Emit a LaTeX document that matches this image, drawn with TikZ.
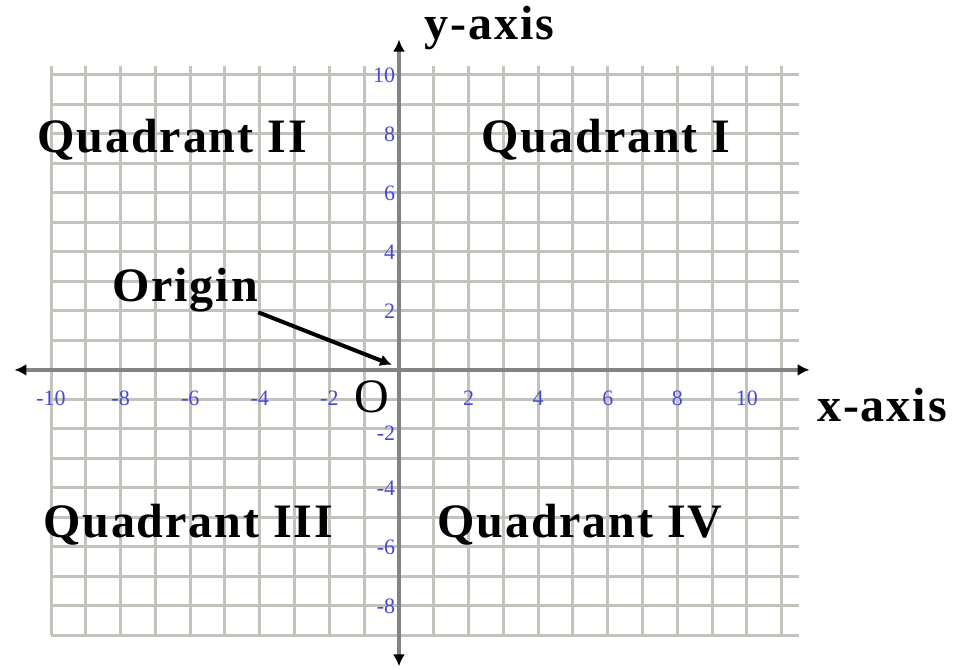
\documentclass[tikz,border=0pt]{standalone}
\usepackage{fontspec}
\setmainfont{Liberation Serif}
\usetikzlibrary{arrows.meta}
\definecolor{ticklab}{RGB}{72,72,215}
\definecolor{gridc}{RGB}{196,194,188}
\definecolor{axisc}{RGB}{128,132,132}

\begin{document}
\begin{tikzpicture}[x=17.4pt,y=14.75pt,>={Latex[length=6pt,width=6pt,color=black]},
  gridline/.style={draw=gridc,line width=1.5pt},
  axisline/.style={draw=axisc,line width=2pt},
  quad/.style={font=\fontsize{24}{28}\selectfont\bfseries\addfontfeature{LetterSpace=4},inner sep=0pt},
  axlab/.style={font=\fontsize{24}{28}\selectfont\bfseries\addfontfeature{LetterSpace=4},inner sep=0pt},
  tick/.style={text=ticklab,font=\fontsize{11}{12}\selectfont,inner sep=0pt}]
\useasboundingbox (-11.466,-10.17) rectangle (15.95,12.54);
% --- grid ---
\foreach \i in {-9,...,10}
  \draw[gridline] (-10,\i) -- (11.5,\i);
\foreach \i in {-10,...,11}
  \draw[gridline] (\i,-9) -- (\i,10.3);
% --- axes ---
\coordinate (xl) at (-11.05,0);
\coordinate (xr) at (11.8,0);
\coordinate (yt) at (0,11.2);
\coordinate (yb) at (0,-10.05);
\draw[axisline,<->] (xl) -- (xr);
\draw[axisline,<->] (yb) -- (yt);
\node[axlab] (ylab) at (2.6,11.6) {y-axis};
\node[axlab] (xlab) at (13.88,-1.19) {x-axis};
% --- tick labels ---
\foreach \v in {-10,-8,-6,-4,-2,2,4,6,8,10}
  \node[tick] (tx\v) at (\v,-0.95) {\v};
\foreach \v in {-8,-6,-4,2,4,6,8,10}
  \node[tick,anchor=east] (ty\v) at (-0.1,\v) {\v};
\node[tick,anchor=east] (ty-2) at (-0.1,-2.15) {-2};
% --- origin ---
\coordinate (O) at (-0.2,0.17);
\node[font=\fontsize{24}{28}\selectfont,inner sep=0pt] (olab) at (-0.78,-0.92) {O};
\node[axlab] (orig) at (-6.15,2.71) {Origin};
\draw[->,line width=2pt] (orig.south east) -- (O);
% --- quadrants ---
\node[quad] (q1) at (5.95,7.8)   {Quadrant I};
\node[quad] (q2) at (-6.52,7.8)  {Quadrant II};
\node[quad] (q3) at (-6.06,-5.25){Quadrant III};
\node[quad] (q4) at (5.2,-5.25)  {Quadrant IV};
\end{tikzpicture}
\end{document}
